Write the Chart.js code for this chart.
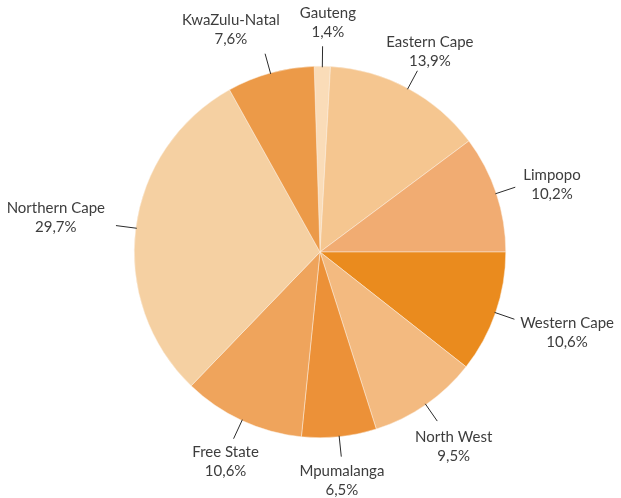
<!DOCTYPE html>
<html>
<head>
<meta charset="utf-8">
<script src="https://cdn.jsdelivr.net/npm/chart.js@4"></script>
<style>
  html, body { margin: 0; padding: 0; background: #fff; }
  #pie { display: block; }
</style>
</head>
<body>
<canvas id="pie" width="621" height="498"></canvas>
<script>
const provinces = ['Gauteng', 'Eastern Cape', 'Limpopo', 'Western Cape', 'North West',
  'Mpumalanga', 'Free State', 'Northern Cape', 'KwaZulu-Natal'];
const shares = [1.4, 13.9, 10.2, 10.6, 9.5, 6.5, 10.6, 29.7, 7.6];
const sliceColors = ['#FADCB8', '#F5C690', '#F1AC72', '#EA8B1E', '#F3BA80',
  '#EC9138', '#EFA45C', '#F5D0A2', '#EC9A48'];

(function () {
  const labelFont = '15px Lato';
  const lineH = 19;
  const gap = 12;

  // leader lines + two-line labels, placed from each arc's own geometry
  const outsideLabels = {
    id: 'outsideLabels',
    afterDatasetsDraw(chart) {
      const ctx = chart.ctx;
      const arcs = chart.getDatasetMeta(0).data;
      ctx.save();
      ctx.font = labelFont;
      ctx.textAlign = 'center';
      ctx.textBaseline = 'middle';

      const maxY = chart.height - lineH / 2 - 7.5;
      const boxes = arcs.map((arc, i) => {
        const mid = (arc.startAngle + arc.endAngle) / 2;
        const cx = Math.cos(mid), sy = Math.sin(mid);
        const r = arc.outerRadius;
        const ex = arc.x + cx * (r + 20), ey = arc.y + sy * (r + 20);
        const name = provinces[i];
        const value = shares[i].toFixed(1).replace('.', ',') + '%';
        const hw = Math.max(ctx.measureText(name).width, ctx.measureText(value).width) / 2;
        const hh = lineH;
        return {
          arc, cx, sy, r, ex, ey, name, value, hw, hh,
          x: ex + Math.sign(cx) * cx * cx * (hw + gap),
          y: Math.min(maxY, ey + sy * (hh + 5) + cx * 5 + Math.max(sy, 0) * 4)
        };
      });

      // push overlapping labels apart sideways
      for (let pass = 0; pass < 10; pass++) {
        for (let a = 0; a < boxes.length; a++) {
          for (let b = a + 1; b < boxes.length; b++) {
            const A = boxes[a], B = boxes[b];
            const ox = A.hw + B.hw + 20 - Math.abs(A.x - B.x);
            const oy = A.hh + B.hh - Math.abs(A.y - B.y);
            if (ox > 0 && oy > 0) {
              const dir = A.x < B.x ? -1 : 1;
              A.x += dir * ox * 0.15;
              B.x -= dir * ox * 0.85;
            }
          }
        }
      }

      boxes.forEach((bx) => {
        const arc = bx.arc;
        ctx.strokeStyle = '#2b2b2b';
        ctx.lineWidth = 1;
        ctx.beginPath();
        ctx.moveTo(arc.x + bx.cx * (bx.r - 1), arc.y + bx.sy * (bx.r - 1));
        ctx.lineTo(bx.ex, bx.ey);
        ctx.stroke();

        ctx.fillStyle = '#3d3d3d';
        ctx.fillText(bx.name, bx.x, bx.y - lineH / 2);
        ctx.fillText(bx.value, bx.x, bx.y + lineH / 2);
      });
      ctx.restore();
    }
  };

  new Chart(document.getElementById('pie').getContext('2d'), {
    type: 'pie',
    data: {
      labels: provinces,
      datasets: [{
        data: shares,
        backgroundColor: sliceColors,
        borderColor: '#fbefe0',
        borderWidth: 0.5
      }]
    },
    options: {
      responsive: false,
      animation: false,
      rotation: -1.8,
      layout: { padding: { left: 134, right: 115, top: 66, bottom: 60 } },
      plugins: {
        legend: { display: false },
        tooltip: { enabled: false }
      }
    },
    plugins: [outsideLabels]
  });
})();
</script>
</body>
</html>
